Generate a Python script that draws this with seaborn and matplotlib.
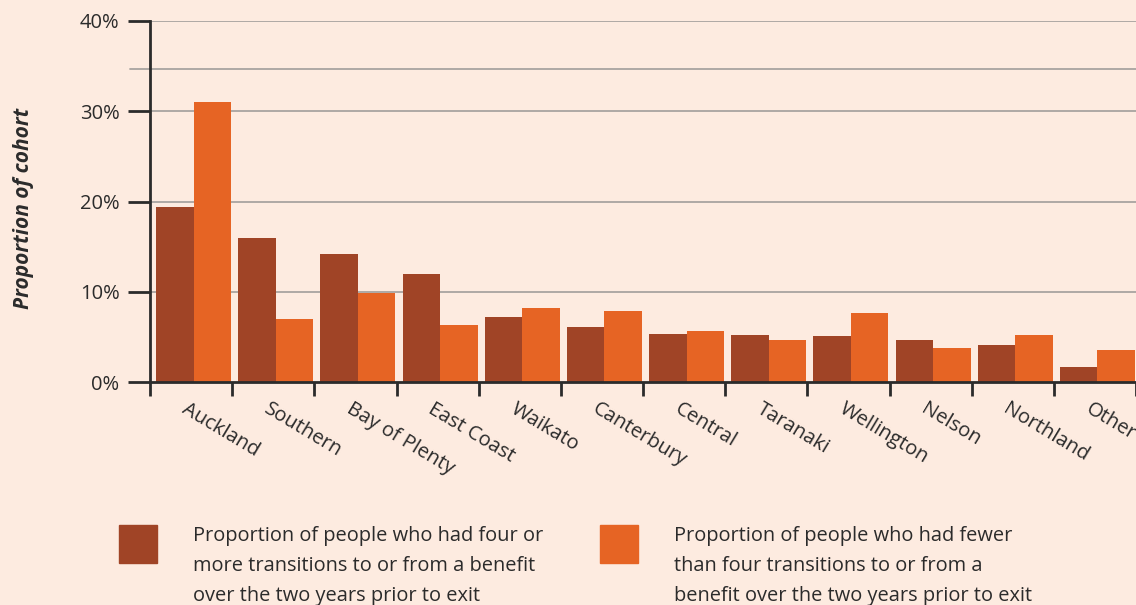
import pandas as pd
import matplotlib.pyplot as plt
import matplotlib.transforms as mtransforms
from matplotlib.patches import Rectangle
import seaborn as sns

# data (percent of cohort)
regions = ['Auckland', 'Southern', 'Bay of Plenty', 'East Coast', 'Waikato', 'Canterbury',
           'Central', 'Taranaki', 'Wellington', 'Nelson', 'Northland', 'Other']
four_or_more = [19.4, 16.0, 14.2, 12.0, 7.2, 6.1, 5.3, 5.2, 5.1, 4.7, 4.1, 1.7]
fewer_than_four = [31.0, 7.0, 9.9, 6.3, 8.2, 7.9, 5.7, 4.7, 7.7, 3.8, 5.2, 3.5]
series_labels = ['Proportion of people who had four or\nmore transitions to or from a benefit\nover the two years prior to exit',
                 'Proportion of people who had fewer\nthan four transitions to or from a\nbenefit over the two years prior to exit']
y_ticks = [0, 10, 20, 30, 40]

bg = '#FDEBE0'
dark = '#A04426'
orange = '#E66424'
ink = '#2B2B2B'

df = pd.DataFrame({
    'region': regions * 2,
    'group': [series_labels[0]] * len(regions) + [series_labels[1]] * len(regions),
    'value': four_or_more + fewer_than_four,
})

sns.set_theme(style='white')
plt.rcParams['font.family'] = ['Open Sans', 'DejaVu Sans']

fig = plt.figure(figsize=(11.36, 6.05), dpi=100, facecolor=bg)
ax = fig.add_axes([150 / 1136, 1 - 382 / 605, 986 / 1136, 361 / 605])
ax.set_facecolor(bg)

# gridlines behind bars
for y in [10, 20, 30, 40]:
    ax.axhline(y, color='#A8A3A0', lw=1.3, zorder=0)
ax.plot([-0.02, 1], [34.7, 34.7], color='#A8A3A0', lw=1.3, zorder=0,
        transform=mtransforms.blended_transform_factory(ax.transAxes, ax.transData), clip_on=False)

sns.barplot(data=df, x='region', y='value', hue='group', palette=[dark, orange],
            width=0.913, saturation=1, legend=False, ax=ax, zorder=2, linewidth=0)

n = len(regions)
ax.set_xlim(-0.53, -0.53 + 986 / 82.95)
ax.set_ylim(0, 40)

# spines
for s in ['top', 'right']:
    ax.spines[s].set_visible(False)
for s in ['left', 'bottom']:
    ax.spines[s].set_color(ink)
    ax.spines[s].set_linewidth(2)
    ax.spines[s].set_zorder(3)

# y axis
ax.set_yticks(y_ticks, [f'{v}%' for v in y_ticks])
ax.tick_params(axis='y', length=16, width=2, color=ink, pad=6, labelsize=14.5, labelcolor=ink, left=True)

# x axis: boundary ticks as minor, labels on major
ax.set_xticks([i - 0.53 for i in range(n + 1)], minor=True)
ax.tick_params(axis='x', which='minor', length=10, width=2, color=ink, bottom=True)
ax.set_xticks(range(n), regions)
ax.tick_params(axis='x', which='major', length=0, pad=12, labelsize=14.5, labelcolor=ink)
offset = mtransforms.ScaledTranslation(-0.05, 0, fig.dpi_scale_trans)
for lab in ax.get_xticklabels():
    lab.set_rotation(-31)
    lab.set_ha('left')
    lab.set_va('top')
    lab.set_rotation_mode('anchor')
    lab.set_transform(lab.get_transform() + offset)

ax.set_xlabel('')
ax.set_ylabel('Proportion of cohort', fontsize=15, fontweight='bold', fontstyle='italic', color=ink)
ax.yaxis.set_label_coords(-0.118, 0.482)

# legend drawn by hand
for x0, col, lab in [(119, dark, series_labels[0]), (600, orange, series_labels[1])]:
    fig.patches.append(Rectangle((x0 / 1136, 1 - 563 / 605), 38 / 1136, 38 / 605,
                                 transform=fig.transFigure, color=col))
    fig.text((x0 + 74) / 1136, 1 - 526 / 605, lab, ha='left', va='top', fontsize=14.4,
             color=ink, linespacing=1.65)

fig.savefig('out.png', dpi=100, facecolor=bg)
